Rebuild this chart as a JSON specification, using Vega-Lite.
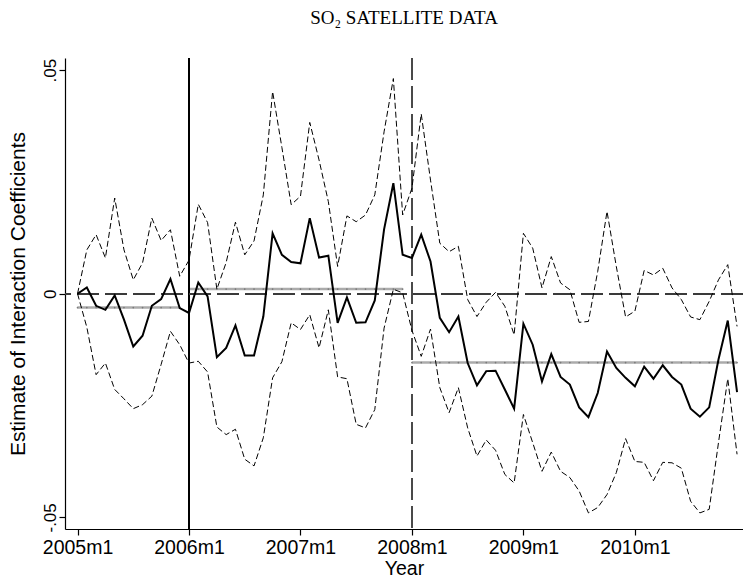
{
  "$schema": "https://vega.github.io/schema/vega-lite/v6.json",
  "width": 678,
  "height": 471,
  "autosize": {"type": "none"},
  "padding": {"left": 65, "top": 58, "right": 0, "bottom": 51},
  "background": "white",
  "config": {"view": {"stroke": null}, "font": "Liberation Sans"},
  "title": {"text": "SO₂ SATELLITE DATA", "font": "Liberation Serif", "fontSize": 19, "fontWeight": "normal", "color": "black", "anchor": "middle", "offset": 29},
  "data": {"values": [
    {"t":0,"est":0.0,"hi":0.0,"lo":0.0,"m":-0.0031,"p":1},
    {"t":1,"est":0.0014,"hi":0.0098,"lo":-0.0075,"m":-0.0031,"p":1},
    {"t":2,"est":-0.0027,"hi":0.0132,"lo":-0.0181,"m":-0.0031,"p":1},
    {"t":3,"est":-0.0036,"hi":0.0080,"lo":-0.0155,"m":-0.0031,"p":1},
    {"t":4,"est":-0.0004,"hi":0.0214,"lo":-0.0214,"m":-0.0031,"p":1},
    {"t":5,"est":-0.0058,"hi":0.0098,"lo":-0.0235,"m":-0.0031,"p":1},
    {"t":6,"est":-0.0118,"hi":0.0031,"lo":-0.0257,"m":-0.0031,"p":1},
    {"t":7,"est":-0.0094,"hi":0.0069,"lo":-0.0248,"m":-0.0031,"p":1},
    {"t":8,"est":-0.0027,"hi":0.0169,"lo":-0.0229,"m":-0.0031,"p":1},
    {"t":9,"est":-0.0012,"hi":0.0119,"lo":-0.0158,"m":-0.0031,"p":1},
    {"t":10,"est":0.0033,"hi":0.0143,"lo":-0.0084,"m":-0.0031,"p":1},
    {"t":11,"est":-0.0032,"hi":0.0039,"lo":-0.0114,"m":-0.0031,"p":1},
    {"t":12,"est":-0.0043,"hi":0.0075,"lo":-0.0155,"m":0.00105,"p":2},
    {"t":13,"est":0.0025,"hi":0.0200,"lo":-0.0151,"m":0.00105,"p":2},
    {"t":14,"est":-0.0006,"hi":0.0159,"lo":-0.0175,"m":0.00105,"p":2},
    {"t":15,"est":-0.0142,"hi":0.0010,"lo":-0.0298,"m":0.00105,"p":2},
    {"t":16,"est":-0.0121,"hi":0.0070,"lo":-0.0315,"m":0.00105,"p":2},
    {"t":17,"est":-0.0071,"hi":0.0160,"lo":-0.0303,"m":0.00105,"p":2},
    {"t":18,"est":-0.0138,"hi":0.0087,"lo":-0.0370,"m":0.00105,"p":2},
    {"t":19,"est":-0.0138,"hi":0.0118,"lo":-0.0385,"m":0.00105,"p":2},
    {"t":20,"est":-0.0051,"hi":0.0221,"lo":-0.0322,"m":0.00105,"p":2},
    {"t":21,"est":0.0135,"hi":0.0452,"lo":-0.0188,"m":0.00105,"p":2},
    {"t":22,"est":0.0087,"hi":0.0327,"lo":-0.0152,"m":0.00105,"p":2},
    {"t":23,"est":0.0071,"hi":0.0199,"lo":-0.0065,"m":0.00105,"p":2},
    {"t":24,"est":0.0068,"hi":0.0218,"lo":-0.0080,"m":0.00105,"p":2},
    {"t":25,"est":0.0169,"hi":0.0383,"lo":-0.0047,"m":0.00105,"p":2},
    {"t":26,"est":0.0081,"hi":0.0299,"lo":-0.0121,"m":0.00105,"p":2},
    {"t":27,"est":0.0085,"hi":0.0206,"lo":-0.0036,"m":0.00105,"p":2},
    {"t":28,"est":-0.0065,"hi":0.0061,"lo":-0.0186,"m":0.00105,"p":2},
    {"t":29,"est":-0.0008,"hi":0.0174,"lo":-0.0190,"m":0.00105,"p":2},
    {"t":30,"est":-0.0065,"hi":0.0161,"lo":-0.0292,"m":0.00105,"p":2},
    {"t":31,"est":-0.0064,"hi":0.0176,"lo":-0.0300,"m":0.00105,"p":2},
    {"t":32,"est":-0.0015,"hi":0.0221,"lo":-0.0259,"m":0.00105,"p":2},
    {"t":33,"est":0.0144,"hi":0.0362,"lo":-0.0077,"m":0.00105,"p":2},
    {"t":34,"est":0.0247,"hi":0.0481,"lo":0.0010,"m":0.00105,"p":2},
    {"t":35,"est":0.0087,"hi":0.0176,"lo":0.0002,"m":0.00105,"p":2},
    {"t":36,"est":0.0080,"hi":0.0236,"lo":-0.0082,"m":-0.0154,"p":3},
    {"t":37,"est":0.0132,"hi":0.0402,"lo":-0.0140,"m":-0.0154,"p":3},
    {"t":38,"est":0.0072,"hi":0.0254,"lo":-0.0079,"m":-0.0154,"p":3},
    {"t":39,"est":-0.0054,"hi":0.0113,"lo":-0.0210,"m":-0.0154,"p":3},
    {"t":40,"est":-0.0086,"hi":0.0094,"lo":-0.0266,"m":-0.0154,"p":3},
    {"t":41,"est":-0.0051,"hi":0.0106,"lo":-0.0210,"m":-0.0154,"p":3},
    {"t":42,"est":-0.0155,"hi":-0.0013,"lo":-0.0300,"m":-0.0154,"p":3},
    {"t":43,"est":-0.0205,"hi":-0.0051,"lo":-0.0363,"m":-0.0154,"p":3},
    {"t":44,"est":-0.0173,"hi":-0.0019,"lo":-0.0327,"m":-0.0154,"p":3},
    {"t":45,"est":-0.0172,"hi":0.0003,"lo":-0.0350,"m":-0.0154,"p":3},
    {"t":46,"est":-0.0214,"hi":-0.0028,"lo":-0.0404,"m":-0.0154,"p":3},
    {"t":47,"est":-0.0257,"hi":-0.0092,"lo":-0.0423,"m":-0.0154,"p":3},
    {"t":48,"est":-0.0067,"hi":0.0135,"lo":-0.0270,"m":-0.0154,"p":3},
    {"t":49,"est":-0.0114,"hi":0.0102,"lo":-0.0333,"m":-0.0154,"p":3},
    {"t":50,"est":-0.0196,"hi":0.0013,"lo":-0.0397,"m":-0.0154,"p":3},
    {"t":51,"est":-0.0135,"hi":0.0083,"lo":-0.0354,"m":-0.0154,"p":3},
    {"t":52,"est":-0.0186,"hi":0.0024,"lo":-0.0397,"m":-0.0154,"p":3},
    {"t":53,"est":-0.0203,"hi":0.0009,"lo":-0.0411,"m":-0.0154,"p":3},
    {"t":54,"est":-0.0254,"hi":-0.0064,"lo":-0.0441,"m":-0.0154,"p":3},
    {"t":55,"est":-0.0276,"hi":-0.0062,"lo":-0.0490,"m":-0.0154,"p":3},
    {"t":56,"est":-0.0222,"hi":0.0050,"lo":-0.0478,"m":-0.0154,"p":3},
    {"t":57,"est":-0.0129,"hi":0.0184,"lo":-0.0449,"m":-0.0154,"p":3},
    {"t":58,"est":-0.0166,"hi":0.0061,"lo":-0.0400,"m":-0.0154,"p":3},
    {"t":59,"est":-0.0188,"hi":-0.0052,"lo":-0.0324,"m":-0.0154,"p":3},
    {"t":60,"est":-0.0207,"hi":-0.0039,"lo":-0.0375,"m":-0.0154,"p":3},
    {"t":61,"est":-0.0163,"hi":0.0052,"lo":-0.0377,"m":-0.0154,"p":3},
    {"t":62,"est":-0.0190,"hi":0.0042,"lo":-0.0418,"m":-0.0154,"p":3},
    {"t":63,"est":-0.0160,"hi":0.0057,"lo":-0.0377,"m":-0.0154,"p":3},
    {"t":64,"est":-0.0186,"hi":0.0013,"lo":-0.0378,"m":-0.0154,"p":3},
    {"t":65,"est":-0.0203,"hi":-0.0013,"lo":-0.0390,"m":-0.0154,"p":3},
    {"t":66,"est":-0.0257,"hi":-0.0052,"lo":-0.0464,"m":-0.0154,"p":3},
    {"t":67,"est":-0.0275,"hi":-0.0058,"lo":-0.0490,"m":-0.0154,"p":3},
    {"t":68,"est":-0.0254,"hi":-0.0017,"lo":-0.0482,"m":-0.0154,"p":3},
    {"t":69,"est":-0.0147,"hi":0.0031,"lo":-0.0333,"m":-0.0154,"p":3},
    {"t":70,"est":-0.0060,"hi":0.0065,"lo":-0.0190,"m":-0.0154,"p":3},
    {"t":71,"est":-0.0220,"hi":-0.0073,"lo":-0.0359,"m":-0.0154,"p":3}
  ]},
  "layer": [
    {
      "mark": {"type": "line", "color": "#ababab", "strokeWidth": 2.5},
      "encoding": {
        "x": {"field": "t", "type": "quantitative", "scale": {"domain": [-1.35, 71.64], "nice": false, "zero": false},
          "axis": {"values": [0, 12, 24, 36, 48, 60], "labelExpr": "(2005 + floor(datum.value / 12)) + 'm1'", "grid": false,
            "title": "Year", "titleFontSize": 19.5, "titleFontWeight": "normal", "titleColor": "black", "titlePadding": 3,
            "labelFontSize": 19.5, "labelColor": "black", "labelPadding": 3, "tickColor": "black", "tickSize": 6, "domainColor": "black", "domainWidth": 1.2, "tickWidth": 1.2}},
        "y": {"field": "m", "type": "quantitative", "scale": {"domain": [-0.0526, 0.0527], "nice": false, "zero": false},
          "axis": {"values": [-0.05, 0, 0.05], "labelExpr": "datum.value == 0 ? '0' : (datum.value > 0 ? '.05' : '-.05')", "grid": false,
            "labelAngle": 270, "labelFontSize": 17, "labelColor": "black", "labelPadding": 0,
            "title": "Estimate of Interaction Coefficients", "titleFontSize": 21, "titleFontWeight": "normal", "titleColor": "black", "titlePadding": 13,
            "tickColor": "black", "tickSize": 6, "domainColor": "black", "domainWidth": 1.2, "tickWidth": 1.2}},
        "detail": {"field": "p", "type": "nominal"}
      }
    },
    {
      "mark": {"type": "point", "filled": true, "size": 3, "color": "#7a7a7a", "opacity": 1},
      "encoding": {
        "x": {"field": "t", "type": "quantitative"},
        "y": {"field": "m", "type": "quantitative"}
      }
    },
    {
      "mark": {"type": "rule", "color": "black", "strokeWidth": 1.4},
      "encoding": {"x": {"datum": 12, "type": "quantitative"}}
    },
    {
      "mark": {"type": "rule", "color": "#4a4a4a", "strokeWidth": 1.5, "strokeDash": [22, 6]},
      "encoding": {"x": {"datum": 36, "type": "quantitative"}}
    },
    {
      "mark": {"type": "rule", "color": "#3a3a3a", "strokeWidth": 1.4, "strokeDash": [22, 6]},
      "encoding": {"y": {"datum": 0, "type": "quantitative"}}
    },
    {
      "mark": {"type": "line", "color": "black", "strokeWidth": 1, "strokeDash": [6, 3]},
      "encoding": {
        "x": {"field": "t", "type": "quantitative"},
        "y": {"field": "hi", "type": "quantitative"}
      }
    },
    {
      "mark": {"type": "line", "color": "black", "strokeWidth": 1, "strokeDash": [6, 3]},
      "encoding": {
        "x": {"field": "t", "type": "quantitative"},
        "y": {"field": "lo", "type": "quantitative"}
      }
    },
    {
      "mark": {"type": "line", "color": "black", "strokeWidth": 2},
      "encoding": {
        "x": {"field": "t", "type": "quantitative"},
        "y": {"field": "est", "type": "quantitative"}
      }
    }
  ]
}
